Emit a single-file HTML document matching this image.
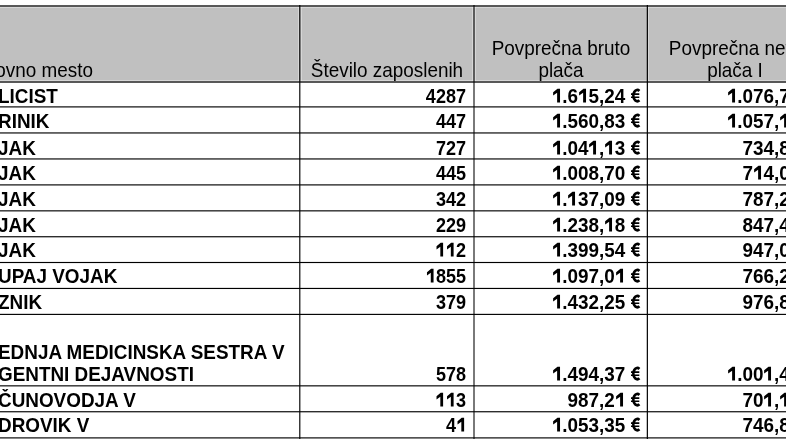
<!DOCTYPE html>
<html><head><meta charset="utf-8"><style>
html,body{margin:0;padding:0;background:#fff;}
body{width:786px;height:442px;overflow:hidden;position:relative;font-family:"Liberation Sans",sans-serif;font-size:18.9px;color:#000;}
#w{position:absolute;left:0;top:0;width:786px;height:442px;filter:blur(0.35px);}
.t{position:absolute;white-space:nowrap;line-height:22px;transform:scaleY(1.05);transform-origin:0 17.55px;}
.b{font-weight:bold;}
.g{width:0.556em;height:0.72em;vertical-align:0;overflow:visible;}
.r{text-align:right;}
.c{text-align:center;}
.hd{transform:scaleY(1.03);}
</style></head><body>

<div id="w">
<div style="position:absolute;left:-10px;top:6px;width:806px;height:76px;background:#c0c0c0"></div>
<div style="position:absolute;left:-10px;width:806px;top:7px;height:1px;background:rgba(255,255,255,0.35)"></div>
<div style="position:absolute;left:-10px;width:806px;top:80px;height:1px;background:rgba(255,255,255,0.35)"></div>
<div style="position:absolute;top:7px;height:74px;left:298px;width:1px;background:rgba(255,255,255,0.35)"></div>
<div style="position:absolute;top:7px;height:74px;left:301px;width:1px;background:rgba(255,255,255,0.35)"></div>
<div style="position:absolute;top:7px;height:74px;left:472px;width:1px;background:rgba(255,255,255,0.35)"></div>
<div style="position:absolute;top:7px;height:74px;left:475px;width:1px;background:rgba(255,255,255,0.35)"></div>
<div style="position:absolute;top:7px;height:74px;left:648px;width:1px;background:rgba(255,255,255,0.35)"></div>
<div style="position:absolute;left:-10px;width:806px;top:5px;height:1px;background:rgba(0,0,0,0.650)"></div>
<div style="position:absolute;left:-10px;width:806px;top:6px;height:1px;background:rgba(0,0,0,0.550)"></div>
<div style="position:absolute;left:-10px;width:806px;top:81px;height:1px;background:rgba(0,0,0,0.550)"></div>
<div style="position:absolute;left:-10px;width:806px;top:82px;height:1px;background:rgba(0,0,0,0.650)"></div>
<div style="position:absolute;left:-10px;width:806px;top:106px;height:1px;background:rgba(0,0,0,0.675)"></div>
<div style="position:absolute;left:-10px;width:806px;top:107px;height:1px;background:rgba(0,0,0,0.475)"></div>
<div style="position:absolute;left:-10px;width:806px;top:132px;height:1px;background:rgba(0,0,0,0.625)"></div>
<div style="position:absolute;left:-10px;width:806px;top:133px;height:1px;background:rgba(0,0,0,0.525)"></div>
<div style="position:absolute;left:-10px;width:806px;top:158px;height:1px;background:rgba(0,0,0,0.625)"></div>
<div style="position:absolute;left:-10px;width:806px;top:159px;height:1px;background:rgba(0,0,0,0.525)"></div>
<div style="position:absolute;left:-10px;width:806px;top:184px;height:1px;background:rgba(0,0,0,0.675)"></div>
<div style="position:absolute;left:-10px;width:806px;top:185px;height:1px;background:rgba(0,0,0,0.475)"></div>
<div style="position:absolute;left:-10px;width:806px;top:210px;height:1px;background:rgba(0,0,0,0.725)"></div>
<div style="position:absolute;left:-10px;width:806px;top:211px;height:1px;background:rgba(0,0,0,0.425)"></div>
<div style="position:absolute;left:-10px;width:806px;top:236px;height:1px;background:rgba(0,0,0,0.825)"></div>
<div style="position:absolute;left:-10px;width:806px;top:237px;height:1px;background:rgba(0,0,0,0.325)"></div>
<div style="position:absolute;left:-10px;width:806px;top:261px;height:1px;background:rgba(0,0,0,0.075)"></div>
<div style="position:absolute;left:-10px;width:806px;top:262px;height:1px;background:rgba(0,0,0,1.000)"></div>
<div style="position:absolute;left:-10px;width:806px;top:263px;height:1px;background:rgba(0,0,0,0.075)"></div>
<div style="position:absolute;left:-10px;width:806px;top:287px;height:1px;background:rgba(0,0,0,0.125)"></div>
<div style="position:absolute;left:-10px;width:806px;top:288px;height:1px;background:rgba(0,0,0,1.000)"></div>
<div style="position:absolute;left:-10px;width:806px;top:289px;height:1px;background:rgba(0,0,0,0.025)"></div>
<div style="position:absolute;left:-10px;width:806px;top:313px;height:1px;background:rgba(0,0,0,0.175)"></div>
<div style="position:absolute;left:-10px;width:806px;top:314px;height:1px;background:rgba(0,0,0,0.975)"></div>
<div style="position:absolute;left:-10px;width:806px;top:385px;height:1px;background:rgba(0,0,0,0.725)"></div>
<div style="position:absolute;left:-10px;width:806px;top:386px;height:1px;background:rgba(0,0,0,0.425)"></div>
<div style="position:absolute;left:-10px;width:806px;top:411px;height:1px;background:rgba(0,0,0,0.825)"></div>
<div style="position:absolute;left:-10px;width:806px;top:412px;height:1px;background:rgba(0,0,0,0.325)"></div>
<div style="position:absolute;left:-10px;width:806px;top:437px;height:1px;background:rgba(0,0,0,0.675)"></div>
<div style="position:absolute;left:-10px;width:806px;top:438px;height:1px;background:rgba(0,0,0,0.475)"></div>
<div style="position:absolute;top:5px;height:434px;left:299px;width:1px;background:rgba(0,0,0,0.775)"></div>
<div style="position:absolute;top:5px;height:434px;left:300px;width:1px;background:rgba(0,0,0,0.375)"></div>
<div style="position:absolute;top:5px;height:434px;left:473px;width:1px;background:rgba(0,0,0,0.525)"></div>
<div style="position:absolute;top:5px;height:434px;left:474px;width:1px;background:rgba(0,0,0,0.525)"></div>
<div style="position:absolute;top:5px;height:434px;left:646px;width:1px;background:rgba(0,0,0,0.250)"></div>
<div style="position:absolute;top:5px;height:434px;left:647px;width:1px;background:rgba(0,0,0,0.950)"></div>
<div class="t hd" style="left:-33px;top:59.75px">Delovno mesto</div>
<div class="t c hd" style="left:300px;width:174px;top:59.75px">Število zaposlenih</div>
<div class="t c hd" style="left:474px;width:174px;top:37.95px">Povprečna bruto</div>
<div class="t c hd" style="left:474px;width:174px;top:59.75px">plača</div>
<div class="t c hd" style="left:648px;width:174px;top:37.95px">Povprečna neto</div>
<div class="t c hd" style="left:648px;width:174px;top:59.75px">plača I</div>
<div class="t b" style="left:-2px;top:85.65px">LICIST</div>
<div class="t b r" style="left:300px;width:166px;top:85.65px;transform:scale(0.955,1.05);transform-origin:166px 17.55px">4287</div>
<div class="t b r" style="left:474px;width:167px;top:85.65px"><svg class="g" viewBox="0 0 556 720"><path d="M290,20L425,20L425,720L271,720L271,225L60,370L60,205Z"/></svg>.6<svg class="g" viewBox="0 0 556 720"><path d="M290,20L425,20L425,720L271,720L271,225L60,370L60,205Z"/></svg>5,24 <svg class="g" viewBox="0 0 556 720"><path d="M445,137A200,285 0 1,0 445,603" fill="none" stroke="#000" stroke-width="140"/><path d="M0,297H440M0,456H440" stroke="#000" stroke-width="80"/></svg></div>
<div class="t b r" style="left:649px;width:167px;top:85.65px"><svg class="g" viewBox="0 0 556 720"><path d="M290,20L425,20L425,720L271,720L271,225L60,370L60,205Z"/></svg>.076,70 <svg class="g" viewBox="0 0 556 720"><path d="M445,137A200,285 0 1,0 445,603" fill="none" stroke="#000" stroke-width="140"/><path d="M0,297H440M0,456H440" stroke="#000" stroke-width="80"/></svg></div>
<div class="t b" style="left:-2px;top:110.65px">RINIK</div>
<div class="t b r" style="left:300px;width:166px;top:110.65px;transform:scale(0.955,1.05);transform-origin:166px 17.55px">447</div>
<div class="t b r" style="left:474px;width:167px;top:110.65px"><svg class="g" viewBox="0 0 556 720"><path d="M290,20L425,20L425,720L271,720L271,225L60,370L60,205Z"/></svg>.560,83 <svg class="g" viewBox="0 0 556 720"><path d="M445,137A200,285 0 1,0 445,603" fill="none" stroke="#000" stroke-width="140"/><path d="M0,297H440M0,456H440" stroke="#000" stroke-width="80"/></svg></div>
<div class="t b r" style="left:649px;width:167px;top:110.65px"><svg class="g" viewBox="0 0 556 720"><path d="M290,20L425,20L425,720L271,720L271,225L60,370L60,205Z"/></svg>.057,<svg class="g" viewBox="0 0 556 720"><path d="M290,20L425,20L425,720L271,720L271,225L60,370L60,205Z"/></svg>0 <svg class="g" viewBox="0 0 556 720"><path d="M445,137A200,285 0 1,0 445,603" fill="none" stroke="#000" stroke-width="140"/><path d="M0,297H440M0,456H440" stroke="#000" stroke-width="80"/></svg></div>
<div class="t b" style="left:-2px;top:137.65px">JAK</div>
<div class="t b r" style="left:300px;width:166px;top:137.65px;transform:scale(0.955,1.05);transform-origin:166px 17.55px">727</div>
<div class="t b r" style="left:474px;width:167px;top:137.65px"><svg class="g" viewBox="0 0 556 720"><path d="M290,20L425,20L425,720L271,720L271,225L60,370L60,205Z"/></svg>.04<svg class="g" viewBox="0 0 556 720"><path d="M290,20L425,20L425,720L271,720L271,225L60,370L60,205Z"/></svg>,<svg class="g" viewBox="0 0 556 720"><path d="M290,20L425,20L425,720L271,720L271,225L60,370L60,205Z"/></svg>3 <svg class="g" viewBox="0 0 556 720"><path d="M445,137A200,285 0 1,0 445,603" fill="none" stroke="#000" stroke-width="140"/><path d="M0,297H440M0,456H440" stroke="#000" stroke-width="80"/></svg></div>
<div class="t b r" style="left:649px;width:167px;top:137.65px">734,80 <svg class="g" viewBox="0 0 556 720"><path d="M445,137A200,285 0 1,0 445,603" fill="none" stroke="#000" stroke-width="140"/><path d="M0,297H440M0,456H440" stroke="#000" stroke-width="80"/></svg></div>
<div class="t b" style="left:-2px;top:162.65px">JAK</div>
<div class="t b r" style="left:300px;width:166px;top:162.65px;transform:scale(0.955,1.05);transform-origin:166px 17.55px">445</div>
<div class="t b r" style="left:474px;width:167px;top:162.65px"><svg class="g" viewBox="0 0 556 720"><path d="M290,20L425,20L425,720L271,720L271,225L60,370L60,205Z"/></svg>.008,70 <svg class="g" viewBox="0 0 556 720"><path d="M445,137A200,285 0 1,0 445,603" fill="none" stroke="#000" stroke-width="140"/><path d="M0,297H440M0,456H440" stroke="#000" stroke-width="80"/></svg></div>
<div class="t b r" style="left:649px;width:167px;top:162.65px">7<svg class="g" viewBox="0 0 556 720"><path d="M290,20L425,20L425,720L271,720L271,225L60,370L60,205Z"/></svg>4,00 <svg class="g" viewBox="0 0 556 720"><path d="M445,137A200,285 0 1,0 445,603" fill="none" stroke="#000" stroke-width="140"/><path d="M0,297H440M0,456H440" stroke="#000" stroke-width="80"/></svg></div>
<div class="t b" style="left:-2px;top:188.65px">JAK</div>
<div class="t b r" style="left:300px;width:166px;top:188.65px;transform:scale(0.955,1.05);transform-origin:166px 17.55px">342</div>
<div class="t b r" style="left:474px;width:167px;top:188.65px"><svg class="g" viewBox="0 0 556 720"><path d="M290,20L425,20L425,720L271,720L271,225L60,370L60,205Z"/></svg>.<svg class="g" viewBox="0 0 556 720"><path d="M290,20L425,20L425,720L271,720L271,225L60,370L60,205Z"/></svg>37,09 <svg class="g" viewBox="0 0 556 720"><path d="M445,137A200,285 0 1,0 445,603" fill="none" stroke="#000" stroke-width="140"/><path d="M0,297H440M0,456H440" stroke="#000" stroke-width="80"/></svg></div>
<div class="t b r" style="left:649px;width:167px;top:188.65px">787,20 <svg class="g" viewBox="0 0 556 720"><path d="M445,137A200,285 0 1,0 445,603" fill="none" stroke="#000" stroke-width="140"/><path d="M0,297H440M0,456H440" stroke="#000" stroke-width="80"/></svg></div>
<div class="t b" style="left:-2px;top:214.65px">JAK</div>
<div class="t b r" style="left:300px;width:166px;top:214.65px;transform:scale(0.955,1.05);transform-origin:166px 17.55px">229</div>
<div class="t b r" style="left:474px;width:167px;top:214.65px"><svg class="g" viewBox="0 0 556 720"><path d="M290,20L425,20L425,720L271,720L271,225L60,370L60,205Z"/></svg>.238,<svg class="g" viewBox="0 0 556 720"><path d="M290,20L425,20L425,720L271,720L271,225L60,370L60,205Z"/></svg>8 <svg class="g" viewBox="0 0 556 720"><path d="M445,137A200,285 0 1,0 445,603" fill="none" stroke="#000" stroke-width="140"/><path d="M0,297H440M0,456H440" stroke="#000" stroke-width="80"/></svg></div>
<div class="t b r" style="left:649px;width:167px;top:214.65px">847,40 <svg class="g" viewBox="0 0 556 720"><path d="M445,137A200,285 0 1,0 445,603" fill="none" stroke="#000" stroke-width="140"/><path d="M0,297H440M0,456H440" stroke="#000" stroke-width="80"/></svg></div>
<div class="t b" style="left:-2px;top:239.65px">JAK</div>
<div class="t b r" style="left:300px;width:166px;top:239.65px;transform:scale(0.955,1.05);transform-origin:166px 17.55px"><svg class="g" viewBox="0 0 556 720"><path d="M290,20L425,20L425,720L271,720L271,225L60,370L60,205Z"/></svg><svg class="g" viewBox="0 0 556 720"><path d="M290,20L425,20L425,720L271,720L271,225L60,370L60,205Z"/></svg>2</div>
<div class="t b r" style="left:474px;width:167px;top:239.65px"><svg class="g" viewBox="0 0 556 720"><path d="M290,20L425,20L425,720L271,720L271,225L60,370L60,205Z"/></svg>.399,54 <svg class="g" viewBox="0 0 556 720"><path d="M445,137A200,285 0 1,0 445,603" fill="none" stroke="#000" stroke-width="140"/><path d="M0,297H440M0,456H440" stroke="#000" stroke-width="80"/></svg></div>
<div class="t b r" style="left:649px;width:167px;top:239.65px">947,00 <svg class="g" viewBox="0 0 556 720"><path d="M445,137A200,285 0 1,0 445,603" fill="none" stroke="#000" stroke-width="140"/><path d="M0,297H440M0,456H440" stroke="#000" stroke-width="80"/></svg></div>
<div class="t b" style="left:-2px;top:265.65px">UPAJ VOJAK</div>
<div class="t b r" style="left:300px;width:166px;top:265.65px;transform:scale(0.955,1.05);transform-origin:166px 17.55px"><svg class="g" viewBox="0 0 556 720"><path d="M290,20L425,20L425,720L271,720L271,225L60,370L60,205Z"/></svg>855</div>
<div class="t b r" style="left:474px;width:167px;top:265.65px"><svg class="g" viewBox="0 0 556 720"><path d="M290,20L425,20L425,720L271,720L271,225L60,370L60,205Z"/></svg>.097,0<svg class="g" viewBox="0 0 556 720"><path d="M290,20L425,20L425,720L271,720L271,225L60,370L60,205Z"/></svg> <svg class="g" viewBox="0 0 556 720"><path d="M445,137A200,285 0 1,0 445,603" fill="none" stroke="#000" stroke-width="140"/><path d="M0,297H440M0,456H440" stroke="#000" stroke-width="80"/></svg></div>
<div class="t b r" style="left:649px;width:167px;top:265.65px">766,20 <svg class="g" viewBox="0 0 556 720"><path d="M445,137A200,285 0 1,0 445,603" fill="none" stroke="#000" stroke-width="140"/><path d="M0,297H440M0,456H440" stroke="#000" stroke-width="80"/></svg></div>
<div class="t b" style="left:-2px;top:291.65px">ZNIK</div>
<div class="t b r" style="left:300px;width:166px;top:291.65px;transform:scale(0.955,1.05);transform-origin:166px 17.55px">379</div>
<div class="t b r" style="left:474px;width:167px;top:291.65px"><svg class="g" viewBox="0 0 556 720"><path d="M290,20L425,20L425,720L271,720L271,225L60,370L60,205Z"/></svg>.432,25 <svg class="g" viewBox="0 0 556 720"><path d="M445,137A200,285 0 1,0 445,603" fill="none" stroke="#000" stroke-width="140"/><path d="M0,297H440M0,456H440" stroke="#000" stroke-width="80"/></svg></div>
<div class="t b r" style="left:649px;width:167px;top:291.65px">976,80 <svg class="g" viewBox="0 0 556 720"><path d="M445,137A200,285 0 1,0 445,603" fill="none" stroke="#000" stroke-width="140"/><path d="M0,297H440M0,456H440" stroke="#000" stroke-width="80"/></svg></div>
<div class="t b" style="left:-2px;top:341.65px">EDNJA MEDICINSKA SESTRA V</div>
<div class="t b" style="left:-2px;top:363.65px">GENTNI DEJAVNOSTI</div>
<div class="t b r" style="left:300px;width:166px;top:363.65px;transform:scale(0.955,1.05);transform-origin:166px 17.55px">578</div>
<div class="t b r" style="left:474px;width:167px;top:363.65px"><svg class="g" viewBox="0 0 556 720"><path d="M290,20L425,20L425,720L271,720L271,225L60,370L60,205Z"/></svg>.494,37 <svg class="g" viewBox="0 0 556 720"><path d="M445,137A200,285 0 1,0 445,603" fill="none" stroke="#000" stroke-width="140"/><path d="M0,297H440M0,456H440" stroke="#000" stroke-width="80"/></svg></div>
<div class="t b r" style="left:649px;width:167px;top:363.65px"><svg class="g" viewBox="0 0 556 720"><path d="M290,20L425,20L425,720L271,720L271,225L60,370L60,205Z"/></svg>.00<svg class="g" viewBox="0 0 556 720"><path d="M290,20L425,20L425,720L271,720L271,225L60,370L60,205Z"/></svg>,40 <svg class="g" viewBox="0 0 556 720"><path d="M445,137A200,285 0 1,0 445,603" fill="none" stroke="#000" stroke-width="140"/><path d="M0,297H440M0,456H440" stroke="#000" stroke-width="80"/></svg></div>
<div class="t b" style="left:-2px;top:389.65px">ČUNOVODJA V</div>
<div class="t b r" style="left:300px;width:166px;top:389.65px;transform:scale(0.955,1.05);transform-origin:166px 17.55px"><svg class="g" viewBox="0 0 556 720"><path d="M290,20L425,20L425,720L271,720L271,225L60,370L60,205Z"/></svg><svg class="g" viewBox="0 0 556 720"><path d="M290,20L425,20L425,720L271,720L271,225L60,370L60,205Z"/></svg>3</div>
<div class="t b r" style="left:474px;width:167px;top:389.65px">987,2<svg class="g" viewBox="0 0 556 720"><path d="M290,20L425,20L425,720L271,720L271,225L60,370L60,205Z"/></svg> <svg class="g" viewBox="0 0 556 720"><path d="M445,137A200,285 0 1,0 445,603" fill="none" stroke="#000" stroke-width="140"/><path d="M0,297H440M0,456H440" stroke="#000" stroke-width="80"/></svg></div>
<div class="t b r" style="left:649px;width:167px;top:389.65px">70<svg class="g" viewBox="0 0 556 720"><path d="M290,20L425,20L425,720L271,720L271,225L60,370L60,205Z"/></svg>,<svg class="g" viewBox="0 0 556 720"><path d="M290,20L425,20L425,720L271,720L271,225L60,370L60,205Z"/></svg>0 <svg class="g" viewBox="0 0 556 720"><path d="M445,137A200,285 0 1,0 445,603" fill="none" stroke="#000" stroke-width="140"/><path d="M0,297H440M0,456H440" stroke="#000" stroke-width="80"/></svg></div>
<div class="t b" style="left:-2px;top:414.65px">DROVIK V</div>
<div class="t b r" style="left:300px;width:166px;top:414.65px;transform:scale(0.955,1.05);transform-origin:166px 17.55px">4<svg class="g" viewBox="0 0 556 720"><path d="M290,20L425,20L425,720L271,720L271,225L60,370L60,205Z"/></svg></div>
<div class="t b r" style="left:474px;width:167px;top:414.65px"><svg class="g" viewBox="0 0 556 720"><path d="M290,20L425,20L425,720L271,720L271,225L60,370L60,205Z"/></svg>.053,35 <svg class="g" viewBox="0 0 556 720"><path d="M445,137A200,285 0 1,0 445,603" fill="none" stroke="#000" stroke-width="140"/><path d="M0,297H440M0,456H440" stroke="#000" stroke-width="80"/></svg></div>
<div class="t b r" style="left:649px;width:167px;top:414.65px">746,80 <svg class="g" viewBox="0 0 556 720"><path d="M445,137A200,285 0 1,0 445,603" fill="none" stroke="#000" stroke-width="140"/><path d="M0,297H440M0,456H440" stroke="#000" stroke-width="80"/></svg></div>
</div>
</body></html>
